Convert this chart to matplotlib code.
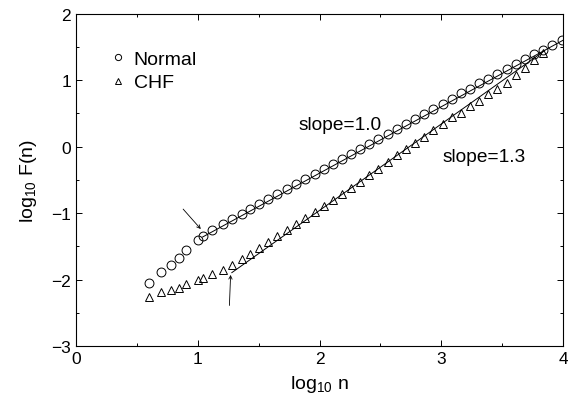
import numpy as np
import matplotlib
matplotlib.use("Agg")
import matplotlib.pyplot as plt

plt.rcParams["font.family"] = ["Liberation Sans", "DejaVu Sans"]
plt.rcParams["mathtext.fontset"] = "custom"
plt.rcParams["mathtext.rm"] = "Liberation Sans"
plt.rcParams["mathtext.it"] = "Liberation Sans:italic"

# box sizes n (log-spaced)
n_normal = [4, 5, 6, 7, 8, 10, 11, 13, 16, 19, 23, 27, 32, 38, 45, 54, 64, 76, 91,
            108, 128, 152, 181, 215, 256, 304, 362, 431, 512, 609, 724, 861, 1024,
            1218, 1448, 1722, 2048, 2435, 2896, 3444, 4096, 4871, 5793, 6889, 8192, 9742]
logF_normal = [-2.05, -1.88, -1.78, -1.68, -1.56, -1.40, -1.35, -1.26, -1.16, -1.09,
               -1.01, -0.94, -0.86, -0.79, -0.71, -0.64, -0.56, -0.49, -0.41, -0.33,
               -0.26, -0.18, -0.11, -0.04, 0.04, 0.11, 0.19, 0.26, 0.34, 0.41,
               0.49, 0.57, 0.64, 0.72, 0.80, 0.87, 0.95, 1.02, 1.10, 1.17,
               1.25, 1.32, 1.40, 1.46, 1.53, 1.60]

n_chf = n_normal[:44]
logF_chf = [-2.26, -2.19, -2.15, -2.12, -2.06, -2.00, -1.98, -1.92, -1.86, -1.78,
            -1.69, -1.61, -1.52, -1.43, -1.35, -1.25, -1.17, -1.08, -0.99, -0.90,
            -0.81, -0.72, -0.62, -0.53, -0.43, -0.33, -0.23, -0.13, -0.04, 0.05,
            0.14, 0.25, 0.34, 0.44, 0.51, 0.61, 0.68, 0.79, 0.87, 0.96,
            1.08, 1.19, 1.31, 1.41]

# fitted lines: slope, intercept, log n range
fit_normal = (1.0, -2.40, (1.04, 4.0))
fit_chf = (1.3, -3.56, (1.28, 3.85))

x_normal = np.log10(n_normal)
x_chf = np.log10(n_chf)

fig = plt.figure(figsize=(5.68, 4.06), dpi=100)
ax = fig.add_axes([0.1338, 0.1453, 0.8574, 0.8185])

ax.plot(x_normal, logF_normal, "o", ms=6.4, mfc="none", mec="black", mew=0.7,
        label="Normal", zorder=3)
ax.plot(x_chf, logF_chf, "^", ms=6.4, mfc="none", mec="black", mew=0.7,
        label="CHF", zorder=3)

for slope, icpt, (a, b) in [fit_normal, fit_chf]:
    xx = np.array([a, b])
    ax.plot(xx, slope * xx + icpt, color="black", lw=0.7, zorder=2)

ax.text(2.17, 0.33, "slope=1.0", fontsize=13.8, ha="center", va="center")
ax.text(3.35, -0.15, "slope=1.3", fontsize=13.8, ha="center", va="center")

ax.annotate("", xy=(1.025, -1.24), xytext=(0.88, -0.94),
            arrowprops=dict(arrowstyle="->", lw=0.6, color="black",
                            shrinkA=0, shrinkB=0, mutation_scale=6))
ax.annotate("", xy=(1.27, -1.93), xytext=(1.26, -2.39),
            arrowprops=dict(arrowstyle="->", lw=0.6, color="black",
                            shrinkA=0, shrinkB=0, mutation_scale=6))

ax.set_xlim(0, 4)
ax.set_ylim(-3, 2)
ax.set_xticks([0, 1, 2, 3, 4])
ax.set_yticks([-3, -2, -1, 0, 1, 2])
ax.set_xticks(np.arange(0.5, 4, 1), minor=True)
ax.set_yticks(np.arange(-2.5, 2, 1), minor=True)
ax.tick_params(which="both", direction="in", top=True, right=True, width=0.7,
               labelsize=12.5)
ax.tick_params(which="major", length=4)
ax.tick_params(which="minor", length=2.5)
for s in ax.spines.values():
    s.set_linewidth(0.8)

ax.set_xlabel(r"log$_{10}$ n", fontsize=14, labelpad=5)
ax.set_ylabel(r"log$_{10}$ F(n)", fontsize=14, labelpad=9)

ax.legend(loc="upper left", bbox_to_anchor=(0.0725, 0.89), frameon=False,
          fontsize=14, handlelength=0.7, handletextpad=0.45, borderpad=0,
          borderaxespad=0, labelspacing=0.3, markerscale=0.7)

fig.savefig("out.png", dpi=100)
